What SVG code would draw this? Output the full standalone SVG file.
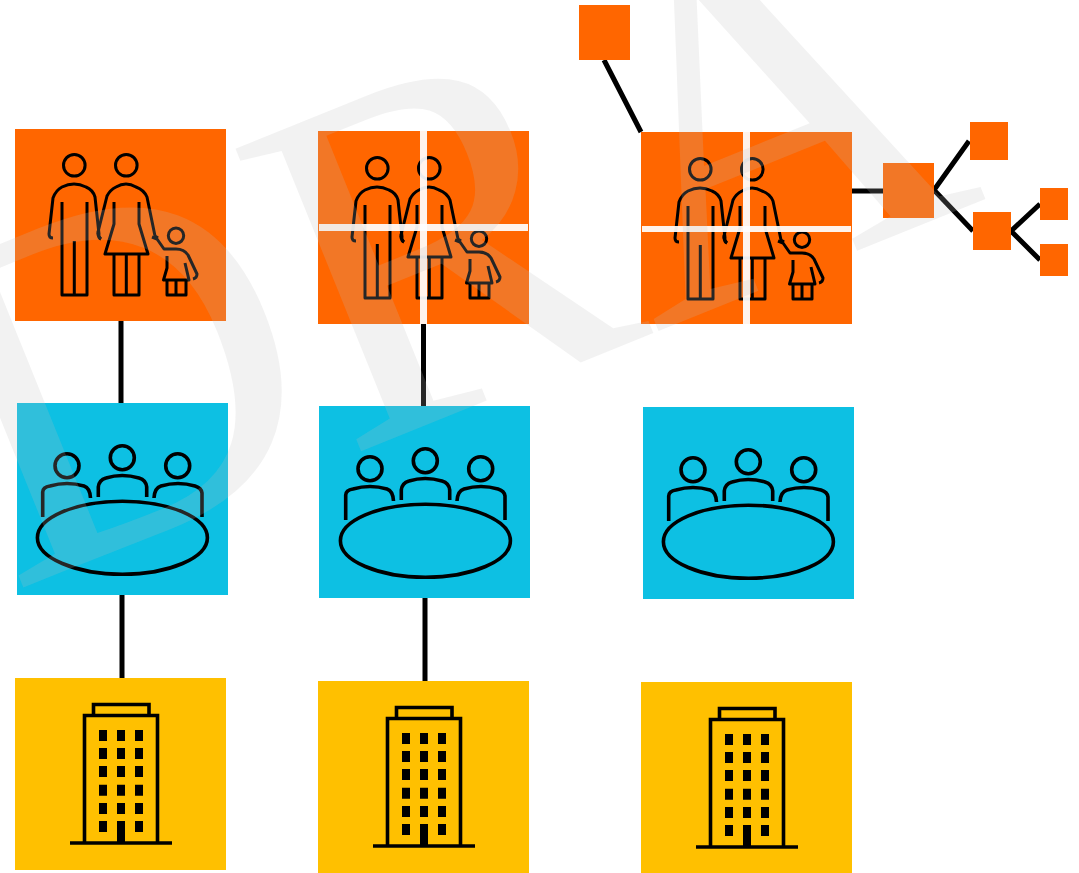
<svg xmlns="http://www.w3.org/2000/svg" xmlns:xlink="http://www.w3.org/1999/xlink" width="1079" height="873" viewBox="0 0 1079 873">
<style>
.orange{fill:#FF6600}.blue{fill:#0DC0E3}.yellow{fill:#FFC000}
.ln{fill:none;stroke:#000;stroke-width:3;stroke-linejoin:round}
.ln3{fill:none;stroke:#000;stroke-width:3.6}
.conn{stroke:#000;stroke-width:5;fill:none}
.wh{fill:#fff;opacity:.92}
.mark{font-family:"Liberation Serif",serif;font-size:500px;fill:#c0c0c0;fill-opacity:.2}
</style>
<defs>
<g id="family" class="ln">
<circle cx="74.3" cy="165.3" r="10.8"/>
<path d="M53 238Q49 238 49 234L53 198Q56 190 62 187Q74 181 86 187Q93 190 95 197L99 234Q98 238 101 239"/>
<path d="M62 202V295H87V202M74.3 241V295"/>
<circle cx="126.3" cy="165.3" r="10.8"/>
<path d="M101 239Q97 235 98 232L107 196Q110 190 116 187Q126 181 136 187Q144 190 147 197L155 236L158 238"/>
<path d="M114 202V224L105 254H148L139 224V202M114 254V295H139V254M126.3 254V295"/>
<circle cx="176" cy="235.7" r="7.7"/>
<path d="M152 237L157 239L164 249H176Q184 249 188 255L197 274Q197 278 193 279"/>
<path d="M167 256V268L163.500 280H189L185 263M167 280V295H186V280M176 280V295"/>
</g>
<g id="meeting">
<g class="ln3">
<circle cx="67" cy="465.700" r="12"/><circle cx="122.300" cy="457.700" r="12"/><circle cx="177.700" cy="465.700" r="12"/>
<path d="M42.700 517V492Q43 487 50 486Q67 481 84 486Q90 488 90.500 498"/>
<path d="M98.300 497V487Q99 480 106 478Q122 473 139 478Q146 480 146.700 487V497"/>
<path d="M154 498Q154.500 488 161 486Q178 481 195 486Q201.500 488 202 493V517"/>
<ellipse cx="122.400" cy="537.700" rx="85" ry="36.500"/>
</g>
</g>
<g id="building">
<path class="ln3" d="M84.500 843V715.500H157.500V843M93.500 715.500V704.500H149V715.500"/>
<path class="ln3" stroke-width="4" d="M70 843H172"/>
<path d="M99 730h8v11h-8zM117 730h8v11h-8zM135 730h8v11h-8zM99 748h8v11h-8zM117 748h8v11h-8zM135 748h8v11h-8zM99 766h8v11h-8zM117 766h8v11h-8zM135 766h8v11h-8zM99 784.700h8v11h-8zM117 784.700h8v11h-8zM135 784.700h8v11h-8zM99 803h8v11h-8zM117 803h8v11h-8zM135 803h8v11h-8zM99 821h8v11h-8zM117 821h8v22h-8zM135 821h8v11h-8z"/>
</g>
</defs>
<g id="connectors" class="conn">
<path d="M121 321V403M122 595V678M423.500 324V406M425 598V681M604 60L641 132M852 191H885M969 141L934 190L973 231M1040 204L1011 231L1040 260"/>
</g>
<g id="family-1"><rect class="orange" x="15" y="129" width="211" height="192"/><use xlink:href="#family" href="#family"/></g>
<g id="family-2"><rect class="orange" x="318" y="131" width="211" height="193"/><use href="#family" xlink:href="#family" transform="translate(303,3)"/><rect class="wh" x="420" y="131" width="7" height="193"/><rect class="wh" x="319" y="224" width="209" height="7"/></g>
<g id="family-3"><rect class="orange" x="641" y="132" width="211" height="192"/><use href="#family" xlink:href="#family" transform="translate(626,4)"/><rect class="wh" x="743" y="132" width="7" height="192"/><rect class="wh" x="642" y="226" width="209" height="6"/></g>
<g id="meeting-1"><rect class="blue" x="17" y="403" width="211" height="192"/><use href="#meeting" xlink:href="#meeting"/></g>
<g id="meeting-2"><rect class="blue" x="319" y="406" width="211" height="192"/><use href="#meeting" xlink:href="#meeting" transform="translate(303,3)"/></g>
<g id="meeting-3"><rect class="blue" x="643" y="407" width="211" height="192"/><use href="#meeting" xlink:href="#meeting" transform="translate(626,4)"/></g>
<g id="building-1"><rect class="yellow" x="15" y="678" width="211" height="192"/><use href="#building" xlink:href="#building"/></g>
<g id="building-2"><rect class="yellow" x="318" y="681" width="211" height="192"/><use href="#building" xlink:href="#building" transform="translate(303,3)"/></g>
<g id="building-3"><rect class="yellow" x="641" y="682" width="211" height="191"/><use href="#building" xlink:href="#building" transform="translate(626,4)"/></g>
<g id="top-box"><rect class="orange" x="579" y="5" width="51" height="55"/></g>
<g id="tree-root"><rect class="orange" x="883" y="163" width="51" height="55"/></g>
<g id="tree-a"><rect class="orange" x="970" y="122" width="38" height="38"/></g>
<g id="tree-b"><rect class="orange" x="973" y="212" width="38" height="38"/></g>
<g id="tree-c"><rect class="orange" x="1040" y="188" width="28" height="32"/></g>
<g id="tree-d"><rect class="orange" x="1040" y="244" width="28" height="32"/></g>
<text class="mark" transform="translate(10,593) rotate(-22)">DRA</text>
</svg>
